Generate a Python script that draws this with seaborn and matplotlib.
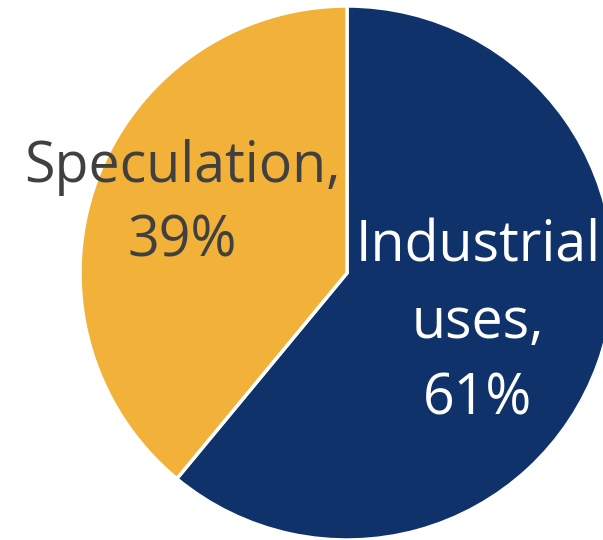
import matplotlib
matplotlib.use("Agg")
import matplotlib.pyplot as plt
import seaborn as sns

# --- datos ---
categorias = ['Industrial uses', 'Speculation']
porcentajes = [61, 39]
colores = ['#10326A', '#F2B138']
etiquetas = ['Industrial\nuses,\n61%', 'Speculation,\n39%']

sns.set_style("white")
plt.rcParams['font.family'] = ['Open Sans', 'DejaVu Sans']

fig = plt.figure(figsize=(6.03, 5.40), dpi=100)
ax = fig.add_axes([0, 0, 1, 1])

# pie: empieza en las 12 y gira en sentido horario
wedges, _ = ax.pie(porcentajes, colors=colores, startangle=90, counterclock=False,
                   radius=1, wedgeprops=dict(edgecolor='white', linewidth=2.5))

ax.text(0.49, -0.19, etiquetas[0], ha='center', va='center', color='white',
        fontsize=40, linespacing=1.45)
ax.text(-0.618, 0.255, etiquetas[1], ha='center', va='center', color='#404040',
        fontsize=40, linespacing=1.4)

ax.set_xlim(-347 / 267, (603 - 347) / 267)
ax.set_ylim(-(540 - 273) / 267, 273 / 267)
ax.set_aspect('auto')
ax.axis('off')

plt.savefig('out.png', dpi=100)
plt.close()
